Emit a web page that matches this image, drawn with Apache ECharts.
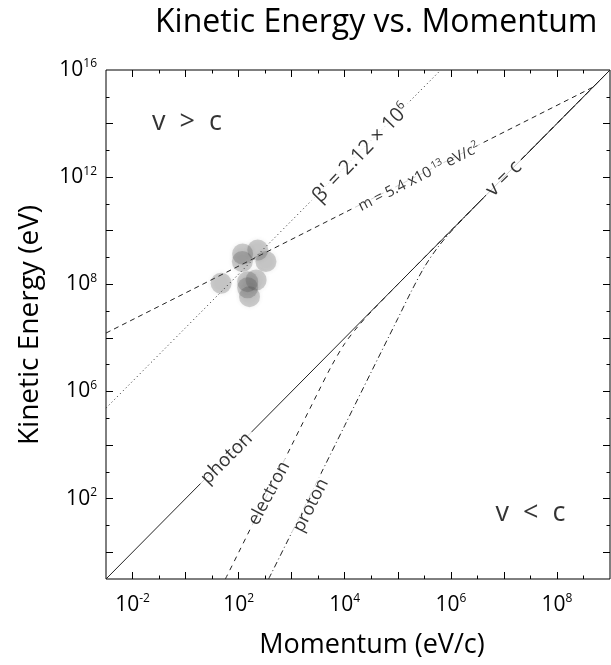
<!DOCTYPE html>
<html>
<head>
<meta charset="utf-8">
<script src="https://cdn.jsdelivr.net/npm/echarts@6/dist/echarts.min.js"></script>
<style>
    html, body { margin: 0; padding: 0; background: #fff; }
    #chart { width: 611px; height: 665px; }
</style>
</head>
<body>
<div id="chart"></div>
<script>
// values are log10 of momentum (eV/c) and kinetic energy (eV)
const xTickVals = [-2, 2, 6, 10, 14];
const xTickExps = ['-2', '2', '4', '6', '8'];
const yTickVals = [16, 12, 8, 4, 0];
const yTickExps = ['16', '12', '8', '6', '2'];

const photonLine = [[-3, -3], [16, 16]];
const betaLine = [[-3, 3.38], [9.62, 16]];
const massLine = [[-3, 6.18], [15.36, 15.36], [16, 16]];
const electronCurve = [[1.5, -3], [2, -2.01], [3, -0.01], [4, 1.99], [5, 3.98], [5.5, 4.95], [6, 5.79], [6.5, 6.43], [7, 6.98], [8, 8], [16, 16]];
const protonCurve = [[3.13, -3], [4, -1.27], [5, 0.73], [6, 2.73], [7, 4.73], [8, 6.72], [8.5, 7.72], [9, 8.64], [9.5, 9.37], [10, 9.96], [11, 11], [16, 16]];
const blobs = [[1.34, 8.04], [2.14, 8.85], [2.72, 9.28], [3.03, 8.85], [2.34, 8.1], [2.34, 7.87], [2.41, 7.54], [2.66, 8.16], [2.15, 9.13]];

const FONT = '"Open Sans", Lato, sans-serif';

const chart = echarts.init(document.getElementById('chart'));

function supLabel(exps, vals) {
    return function (v) {
        const i = vals.indexOf(v);
        return i < 0 ? '' : '{b|10}{s|' + exps[i] + '}';
    };
}

const labelRich = {
    b: { fontSize: 21, fontFamily: FONT, color: '#000', lineHeight: 24 },
    s: { fontSize: 12, fontFamily: FONT, color: '#000', verticalAlign: 'top', lineHeight: 24, padding: [0, 0, 10, 0] }
};

function axisDef(position, ticks, len, labelVals, labelExps, margin) {
    return {
        type: 'value', min: -3, max: 16, position: position,
        axisLine: { show: false, onZero: false },
        splitLine: { show: false },
        axisTick: { show: true, inside: true, length: len, customValues: ticks, lineStyle: { color: '#000', width: 1 } },
        axisLabel: labelVals ? {
            show: true, customValues: labelVals, margin: margin,
            formatter: supLabel(labelExps, labelVals), rich: labelRich
        } : { show: false }
    };
}

const majors = [-2, 0, 2, 4, 6, 8, 10, 12, 14];
const minors = [-1, 1, 3, 5, 7, 9, 11, 13, 15];

// text along the lines, white box hides the line under it
const notes = [
    { at: [0.05, 14.05], text: 'v  >  c', rotate: 0, size: 27 },
    { at: [13.0, -0.55], text: 'v  <  c', rotate: 0, size: 27 },
    { at: [6.62, 12.9], text: 'β\' = 2.12 × 10{u|6}', rotate: 46, size: 20 },
    { at: [8.8, 12.0], text: 'm = 5.4 x10{u2| 13} eV/c{u2|2}', rotate: 27, size: 15 },
    { at: [12.0, 11.95], text: 'v = c', rotate: 45, size: 20 },
    { at: [1.55, 1.5], text: 'photon', rotate: 45, size: 19 },
    { at: [3.15, 0.2], text: 'electron', rotate: 62, size: 18 },
    { at: [4.72, -0.25], text: 'proton', rotate: 63, size: 18 }
];

chart.setOption({
    animation: false,
    backgroundColor: '#fff',
    title: {
        text: 'Kinetic Energy vs. Momentum',
        left: 150, top: 2,
        textStyle: { fontFamily: FONT, fontSize: 32, fontWeight: 'normal', color: '#000' }
    },
    grid: {
        left: 106, top: 70, right: 1, bottom: 86,
        show: true, borderColor: '#000', borderWidth: 1
    },
    xAxis: [
        axisDef('bottom', majors, 7, xTickVals, xTickExps, 14),
        axisDef('bottom', minors, 3.5),
        axisDef('top', majors, 7),
        axisDef('top', minors, 3.5)
    ],
    yAxis: [
        axisDef('left', majors, 7, yTickVals, yTickExps, 9),
        axisDef('left', minors, 3.5),
        axisDef('right', majors, 7),
        axisDef('right', minors, 3.5)
    ],
    graphic: [
        {
            type: 'text', x: 30, y: 325, rotation: Math.PI / 2,
            style: { text: 'Kinetic Energy (eV)', font: '28px ' + FONT, fill: '#000', align: 'center', verticalAlign: 'middle' }
        },
        {
            type: 'text', x: 372, y: 645,
            style: { text: 'Momentum (eV/c)', font: '27px ' + FONT, fill: '#000', align: 'center', verticalAlign: 'middle' }
        }
    ],
    series: [
        {
            name: 'v = c', type: 'line', data: photonLine, showSymbol: false,
            lineStyle: { color: '#222', width: 1 }
        },
        {
            name: 'beta', type: 'line', data: betaLine, showSymbol: false,
            lineStyle: { color: '#222', width: 1, type: [1, 3] }
        },
        {
            name: 'mass', type: 'line', data: massLine, showSymbol: false,
            lineStyle: { color: '#222', width: 1, type: [5, 4] }
        },
        {
            name: 'electron', type: 'line', data: electronCurve, showSymbol: false, smooth: 0.3,
            lineStyle: { color: '#222', width: 1, type: [5, 5] }
        },
        {
            name: 'proton', type: 'line', data: protonCurve, showSymbol: false, smooth: 0.3,
            lineStyle: { color: '#222', width: 1, type: [6, 3, 1, 3] }
        },
        {
            name: 'events', type: 'scatter', data: blobs, symbolSize: 21, z: 4,
            itemStyle: { color: 'rgba(70,70,70,0.3)', shadowBlur: 4, shadowColor: 'rgba(70,70,70,0.4)' }
        },
        {
            name: 'notes', type: 'scatter', symbolSize: 1, z: 10, silent: true,
            itemStyle: { color: 'rgba(0,0,0,0)' },
            data: notes.map(n => ({
                value: n.at,
                label: {
                    show: true, position: 'inside', rotate: n.rotate,
                    formatter: n.text,
                    fontFamily: FONT, fontSize: n.size, color: '#000',
                    backgroundColor: n.rotate ? '#fff' : 'transparent',
                    padding: [0, 4],
                    rich: {
                        u: { fontFamily: FONT, fontSize: 12, color: '#000', verticalAlign: 'top', padding: [0, 0, 10, 0] },
                        u2: { fontFamily: FONT, fontSize: 10, color: '#000', verticalAlign: 'top', padding: [0, 0, 8, 0] }
                    }
                }
            }))
        }
    ]
});
</script>
</body>
</html>
